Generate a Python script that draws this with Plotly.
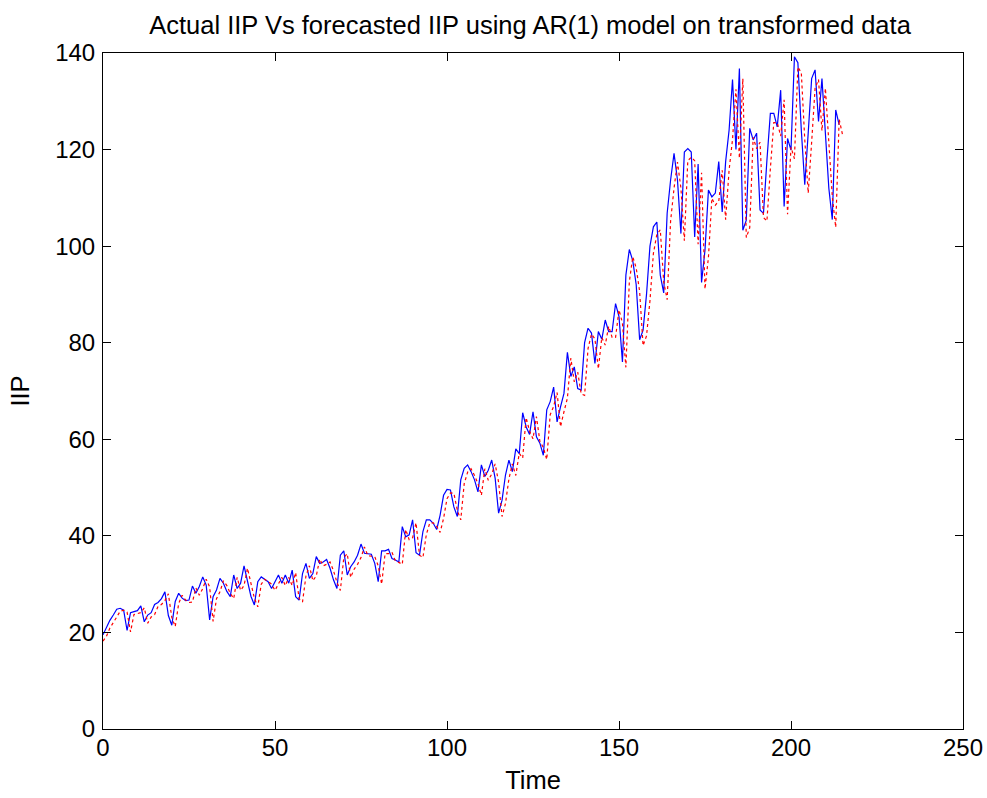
import plotly.graph_objects as go

# Time index
time_actual = list(range(0, 215))
time_forecast = list(range(0, 216))

# Actual IIP (blue, solid)
actual_iip = [
    19.5, 21.2, 22.5, 23.6, 24.8, 25.0, 24.6, 20.4, 24.1, 24.3,
    24.5, 25.5, 22.2, 23.6, 24.1, 25.8, 26.2, 27.0, 28.4, 23.5,
    21.5, 26.4, 28.1, 27.1, 26.6, 26.7, 29.6, 28.1, 29.5, 31.5,
    29.8, 22.6, 27.4, 28.8, 31.2, 30.2, 28.5, 27.4, 31.9, 29.1,
    30.2, 33.8, 30.5, 27.5, 25.7, 30.5, 31.5, 31.0, 30.5, 29.1,
    30.5, 31.9, 30.2, 31.9, 30.2, 32.9, 27.4, 26.7, 32.2, 34.3,
    31.2, 32.2, 35.7, 34.3, 34.6, 35.1, 33.3, 30.9, 29.1, 36.0,
    36.9, 31.9, 33.6, 34.6, 36.0, 38.3, 36.4, 36.3, 36.2, 34.3,
    30.5, 36.9, 36.9, 37.2, 35.3, 35.0, 34.6, 41.9, 39.8, 40.2,
    43.3, 36.5, 36.0, 40.9, 43.3, 43.3, 42.6, 41.3, 44.3, 48.4,
    49.6, 49.5, 46.0, 44.0, 51.6, 54.0, 54.7, 53.3, 51.6, 49.1,
    54.7, 52.3, 53.6, 55.7, 51.9, 44.7, 47.4, 52.6, 55.7, 53.3,
    58.0, 57.0, 65.5, 62.6, 61.0, 65.7, 60.5, 59.2, 56.7, 66.1,
    67.8, 70.8, 63.6, 66.7, 69.5, 78.0, 73.0, 75.0, 70.5, 70.2,
    80.0, 83.0, 82.0, 75.7, 82.3, 80.7, 84.7, 82.3, 82.3, 88.1,
    85.4, 76.0, 94.0, 99.3, 97.0, 92.0, 80.6, 82.6, 90.0, 100.0,
    104.0, 105.0, 94.0, 90.3, 106.8, 113.7, 119.2, 113.7, 102.6, 119.5,
    120.2, 119.5, 101.9, 117.0, 92.5, 99.2, 111.6, 110.2, 111.0, 117.5,
    107.1, 117.5, 124.0, 134.5, 120.0, 136.8, 103.3, 105.4, 124.4, 122.0,
    123.4, 107.5, 106.8, 117.8, 127.5, 127.5, 124.7, 132.3, 108.2, 122.3,
    119.9, 139.2, 138.0, 124.0, 112.7, 123.4, 134.7, 136.5, 125.8, 134.7,
    124.4, 112.0, 105.5, 128.2, 125.1,
]

# Forecasted IIP from AR(1) model (red, dotted)
forecast_iip = [
    18.2, 19.2, 20.9, 22.2, 23.2, 24.4, 24.6, 24.2, 20.1, 23.7,
    23.9, 24.1, 25.1, 21.9, 23.2, 23.7, 25.4, 25.8, 26.6, 28.0,
    23.1, 21.2, 26.0, 27.7, 26.7, 26.2, 26.3, 29.2, 27.7, 29.1,
    31.0, 29.4, 22.3, 27.0, 28.4, 30.7, 29.7, 28.1, 27.0, 31.4,
    28.7, 29.7, 33.3, 30.0, 27.1, 25.3, 30.0, 31.0, 30.5, 30.0,
    28.7, 30.0, 31.4, 29.7, 31.4, 29.7, 32.4, 27.0, 26.3, 31.7,
    33.8, 30.7, 31.7, 35.2, 33.8, 34.1, 34.6, 32.8, 30.4, 28.7,
    35.5, 36.3, 31.4, 33.1, 34.1, 35.5, 37.7, 35.9, 35.8, 35.7,
    33.8, 30.0, 36.3, 36.3, 36.6, 34.8, 34.5, 34.1, 41.3, 39.2,
    39.6, 42.7, 36.0, 35.5, 40.3, 42.7, 42.7, 42.0, 40.7, 43.6,
    47.7, 48.9, 48.8, 45.3, 43.3, 50.8, 53.2, 53.9, 52.5, 50.8,
    48.4, 53.9, 51.5, 52.8, 54.9, 51.1, 44.0, 46.7, 51.8, 54.9,
    52.5, 57.1, 56.1, 64.5, 61.7, 60.1, 64.7, 59.6, 58.3, 55.8,
    65.1, 66.8, 69.7, 62.6, 65.7, 68.5, 76.8, 71.9, 73.9, 69.4,
    69.1, 78.8, 81.8, 80.8, 74.6, 81.1, 79.5, 83.4, 81.1, 81.1,
    86.8, 84.1, 74.9, 92.6, 97.8, 95.5, 90.6, 79.4, 81.4, 88.7,
    98.5, 102.4, 103.4, 92.6, 88.9, 105.2, 112.0, 117.4, 112.0, 101.1,
    117.7, 118.4, 117.7, 100.4, 115.2, 91.1, 97.7, 109.9, 108.5, 109.3,
    115.7, 105.5, 115.7, 122.1, 132.5, 118.2, 134.7, 101.8, 103.8, 122.5,
    120.2, 121.5, 105.9, 105.2, 116.0, 125.6, 125.6, 122.8, 130.3, 106.6,
    120.5, 118.1, 137.1, 135.9, 122.1, 111.0, 121.5, 132.7, 134.5, 123.9,
    132.7, 122.5, 110.3, 103.9, 126.3, 123.0,
]

x_ticks = [0, 50, 100, 150, 200, 250]
y_ticks = [0, 20, 40, 60, 80, 100, 120, 140]

FONT = "Liberation Sans, Arial, sans-serif"

fig = go.Figure()
fig.add_trace(go.Scatter(
    x=time_actual, y=actual_iip, mode="lines",
    line=dict(color="#0000FF", width=1.2), name="Actual IIP",
))
fig.add_trace(go.Scatter(
    x=time_forecast, y=forecast_iip, mode="lines",
    line=dict(color="#FF0000", width=1.2, dash="dot"), name="Forecasted IIP",
))

axis_common = dict(
    showgrid=False, zeroline=False, showline=True, linecolor="black",
    linewidth=1, mirror="allticks", ticks="inside", ticklen=8,
    tickcolor="black", tickwidth=1, automargin=False,
    tickfont=dict(family=FONT, size=24, color="black"),
)

fig.update_layout(
    width=987, height=798,
    margin=dict(l=103, r=24, t=53, b=69),
    paper_bgcolor="white", plot_bgcolor="white",
    showlegend=False,
    font=dict(family=FONT, size=24, color="black"),
    title=dict(
        text="Actual IIP Vs forecasted IIP using AR(1) model on transformed data",
        x=0.537, xanchor="center", y=1 - 25 / 798, yanchor="middle",
        yref="container", font=dict(family=FONT, size=25.5, color="black"),
    ),
    xaxis=dict(
        range=[0, 250], tickvals=x_ticks, ticktext=[str(v) for v in x_ticks],
        title=dict(text="Time", font=dict(family=FONT, size=25.5, color="black"), standoff=11),
        ticklabelstandoff=-3,
        **axis_common,
    ),
    yaxis=dict(
        range=[0, 140], tickvals=y_ticks, ticktext=[str(v) for v in y_ticks],
        title=dict(text="IIP", font=dict(family=FONT, size=25.5, color="black"), standoff=18),
        ticklabelstandoff=2,
        **axis_common,
    ),
)

fig.write_html("out.html")
